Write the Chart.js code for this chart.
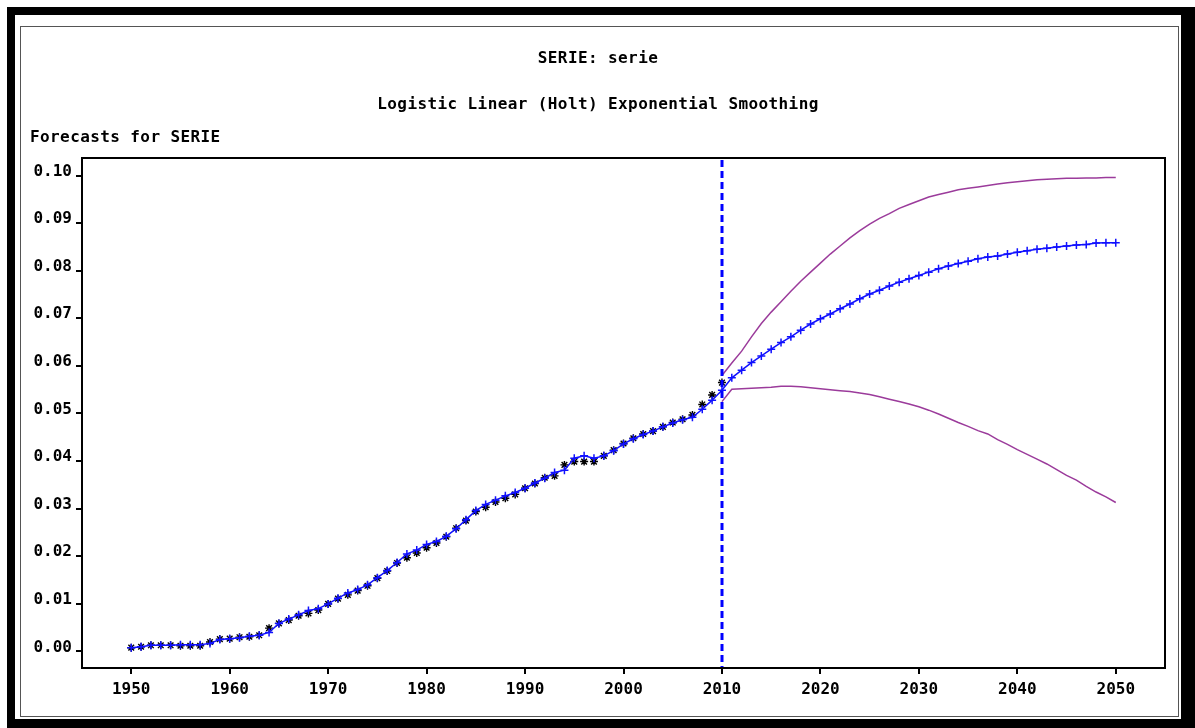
<!DOCTYPE html>
<html>
<head>
<meta charset="utf-8">
<script src="https://cdn.jsdelivr.net/npm/chart.js@4/dist/chart.umd.min.js"></script>
<style>
  html, body { margin: 0; padding: 0; background: #fff; overflow: hidden; }
  canvas { display: block; }
</style>
</head>
<body>
<canvas id="chart" width="1195" height="728"></canvas>
<script>
// Years covered by the series and its forecast horizon
const years = [
  1950, 1951, 1952, 1953, 1954, 1955, 1956, 1957, 1958, 1959,
  1960, 1961, 1962, 1963, 1964, 1965, 1966, 1967, 1968, 1969,
  1970, 1971, 1972, 1973, 1974, 1975, 1976, 1977, 1978, 1979,
  1980, 1981, 1982, 1983, 1984, 1985, 1986, 1987, 1988, 1989,
  1990, 1991, 1992, 1993, 1994, 1995, 1996, 1997, 1998, 1999,
  2000, 2001, 2002, 2003, 2004, 2005, 2006, 2007, 2008, 2009,
  2010, 2011, 2012, 2013, 2014, 2015, 2016, 2017, 2018, 2019,
  2020, 2021, 2022, 2023, 2024, 2025, 2026, 2027, 2028, 2029,
  2030, 2031, 2032, 2033, 2034, 2035, 2036, 2037, 2038, 2039,
  2040, 2041, 2042, 2043, 2044, 2045, 2046, 2047, 2048, 2049,
  2050
];

// Observed SERIE values, 1950-2010
const actual = [
  0.0008, 0.0010, 0.0013, 0.0013, 0.0013, 0.0012, 0.0012, 0.0012, 0.0020, 0.0026,
  0.0027, 0.0030, 0.0031, 0.0034, 0.0049, 0.0059, 0.0066, 0.0075, 0.0080, 0.0087,
  0.0100, 0.0111, 0.0119, 0.0128, 0.0138, 0.0154, 0.0169, 0.0186, 0.0197, 0.0207,
  0.0218, 0.0228, 0.0241, 0.0259, 0.0275, 0.0294, 0.0303, 0.0314, 0.0322, 0.0330,
  0.0343, 0.0353, 0.0365, 0.0369, 0.0392, 0.0399, 0.0399, 0.0399, 0.0411, 0.0423,
  0.0437, 0.0448, 0.0457, 0.0463, 0.0472, 0.0481, 0.0488, 0.0497, 0.0519, 0.0539,
  0.0565
];

// One-step-ahead fit and multi-step forecast, 1950-2050
const forecast = [
  0.0008, 0.0010, 0.0013, 0.0013, 0.0013, 0.0014, 0.0014, 0.0014, 0.0017, 0.0025,
  0.0027, 0.0029, 0.0032, 0.0034, 0.0040, 0.0059, 0.0068, 0.0077, 0.0086, 0.0090,
  0.0100, 0.0112, 0.0123, 0.0130, 0.0140, 0.0155, 0.0170, 0.0187, 0.0205, 0.0213,
  0.0225, 0.0231, 0.0242, 0.0258, 0.0277, 0.0296, 0.0309, 0.0318, 0.0327, 0.0334,
  0.0343, 0.0354, 0.0364, 0.0376, 0.0381, 0.0406, 0.0411, 0.0406, 0.0411, 0.0422,
  0.0436, 0.0447, 0.0456, 0.0463, 0.0472, 0.0480, 0.0487, 0.0492, 0.0509, 0.0528,
  0.0549,
  0.0575, 0.0591, 0.0607, 0.0621, 0.0635, 0.0649, 0.0661, 0.0675, 0.0688, 0.0699,
  0.0709, 0.0720, 0.0730, 0.0741, 0.0751, 0.0759, 0.0768, 0.0776, 0.0783, 0.0790,
  0.0797, 0.0804, 0.0810, 0.0815, 0.0820, 0.0825, 0.0829, 0.0831, 0.0835, 0.0839,
  0.0842, 0.0845, 0.0847, 0.0850, 0.0852, 0.0854, 0.0855, 0.0858, 0.0859, 0.0859
];

// Confidence limits of the forecast, 2010-2050
const upper = [
  0.0580,
  0.0606, 0.0631, 0.0661, 0.0689, 0.0713, 0.0735, 0.0757, 0.0778, 0.0797, 0.0816,
  0.0835, 0.0852, 0.0869, 0.0884, 0.0898, 0.0910, 0.0920, 0.0931, 0.0939, 0.0947,
  0.0955, 0.0960, 0.0965, 0.0970, 0.0973, 0.0976, 0.0979, 0.0982, 0.0985, 0.0987,
  0.0989, 0.0991, 0.0992, 0.0993, 0.0994, 0.0994, 0.0995, 0.0995, 0.0996, 0.0996
];
const lower = [
  0.0525,
  0.0551, 0.0552, 0.0553, 0.0554, 0.0555, 0.0557, 0.0557, 0.0556, 0.0554, 0.0552,
  0.0550, 0.0548, 0.0546, 0.0543, 0.0540, 0.0535, 0.0530, 0.0525, 0.0520, 0.0514,
  0.0507, 0.0499, 0.0490, 0.0481, 0.0473, 0.0464, 0.0457, 0.0445, 0.0435, 0.0424,
  0.0414, 0.0404, 0.0394, 0.0382, 0.0370, 0.0360, 0.0347, 0.0335, 0.0325, 0.0313
];

// Axis ticks
const xTicks = [1950, 1960, 1970, 1980, 1990, 2000, 2010, 2020, 2030, 2040, 2050];
const yTicks = [0.00, 0.01, 0.02, 0.03, 0.04, 0.05, 0.06, 0.07, 0.08, 0.09, 0.10];

// Start of the forecast horizon (dashed reference line)
const forecastStart = 2010;

// Titles
const titleText = 'SERIE: serie';
const subtitleText = 'Logistic Linear (Holt) Exponential Smoothing';
const axisTitleText = 'Forecasts for SERIE';

const FONT_FAMILY = "'DejaVu Sans Mono', monospace";
const tickFont = { family: FONT_FAMILY, size: 16, weight: 'bold' };

const startIdx = years.indexOf(forecastStart);
const toPoints = (values, offset) => values.map((v, i) => ({ x: years[offset + i], y: v }));

// Page frame, titles, plot border and the dashed forecast-start line
const sasFrame = {
  id: 'sasFrame',
  beforeDraw(chart) {
    const ctx = chart.ctx;
    const W = chart.width, H = chart.height;
    ctx.save();
    ctx.fillStyle = '#fff';
    ctx.fillRect(0, 0, W, H);
    // heavy outer border
    ctx.fillStyle = '#000';
    ctx.fillRect(7, 7, W - 7, H - 7);
    ctx.fillStyle = '#fff';
    ctx.fillRect(15, 15, 1181 - 15, 719 - 15);
    // thin inner border
    ctx.strokeStyle = '#555';
    ctx.lineWidth = 1;
    ctx.strokeRect(20.5, 26.5, 1158, 690);
    // texts
    ctx.fillStyle = '#000';
    ctx.font = `bold 16px ${FONT_FAMILY}`;
    if ('letterSpacing' in ctx) ctx.letterSpacing = '0.4px';
    ctx.textBaseline = 'alphabetic';
    ctx.textAlign = 'center';
    ctx.fillText(titleText, 598, 63);
    ctx.fillText(subtitleText, 598, 109);
    ctx.textAlign = 'left';
    ctx.fillText(axisTitleText, 30, 142);
    ctx.restore();
  },
  afterDatasetsDraw(chart) {
    const ctx = chart.ctx;
    const a = chart.chartArea;
    const x = Math.round(chart.scales.x.getPixelForValue(forecastStart));
    ctx.save();
    ctx.strokeStyle = '#0000FF';
    ctx.lineWidth = 3;
    ctx.setLineDash([7, 4]);
    ctx.beginPath();
    ctx.moveTo(x, a.top + 2);
    ctx.lineTo(x, a.bottom);
    ctx.stroke();
    ctx.restore();
  },
  afterDraw(chart) {
    const ctx = chart.ctx;
    const a = chart.chartArea;
    ctx.save();
    ctx.strokeStyle = '#000';
    ctx.lineWidth = 2;
    ctx.strokeRect(a.left, a.top, a.right - a.left, a.bottom - a.top);
    ctx.restore();
  }
};

new Chart(document.getElementById('chart'), {
  type: 'line',
  data: {
    datasets: [
      {
        label: 'Forecast',
        data: toPoints(forecast, 0),
        borderColor: '#1010FF',
        borderWidth: 1.5,
        pointStyle: 'cross',
        pointRadius: 4,
        pointBorderWidth: 1.5,
        pointBorderColor: '#1010FF',
        pointBackgroundColor: '#1010FF',
        tension: 0,
        order: 0
      },
      {
        label: 'Actual',
        data: toPoints(actual, 0),
        showLine: false,
        pointStyle: 'star',
        pointRadius: 4,
        pointBorderWidth: 1.4,
        pointBorderColor: '#000',
        pointBackgroundColor: '#000',
        order: 1
      },
      {
        label: 'Upper 95%',
        data: toPoints(upper, startIdx),
        borderColor: '#9B3B9B',
        borderWidth: 1.5,
        pointRadius: 0,
        tension: 0,
        order: 2
      },
      {
        label: 'Lower 95%',
        data: toPoints(lower, startIdx),
        borderColor: '#9B3B9B',
        borderWidth: 1.5,
        pointRadius: 0,
        tension: 0,
        order: 2
      }
    ]
  },
  options: {
    responsive: false,
    animation: false,
    devicePixelRatio: 1,
    layout: { padding: { top: 158, right: 30, bottom: 0, left: 0 } },
    plugins: {
      legend: { display: false },
      tooltip: { enabled: false },
      title: { display: false }
    },
    scales: {
      x: {
        type: 'linear',
        min: 1945,
        max: 2055,
        afterBuildTicks: (s) => { s.ticks = xTicks.map(v => ({ value: v })); },
        afterFit: (s) => { s.height = 60; },
        border: { display: false },
        grid: {
          display: true,
          drawOnChartArea: false,
          drawTicks: true,
          tickLength: 6,
          tickWidth: 2,
          tickColor: '#000',
          color: '#000',
          lineWidth: 2
        },
        ticks: {
          autoSkip: false,
          maxRotation: 0,
          color: '#000',
          font: tickFont,
          padding: 6,
          callback: (v) => String(v)
        }
      },
      y: {
        type: 'linear',
        min: -0.00347,
        max: 0.10368,
        afterBuildTicks: (s) => { s.ticks = yTicks.map(v => ({ value: v })); },
        afterFit: (s) => { s.width = 82; },
        border: { display: false },
        grid: {
          display: true,
          drawOnChartArea: false,
          drawTicks: true,
          tickLength: 6,
          tickWidth: 2,
          tickColor: '#000',
          color: '#000',
          lineWidth: 2
        },
        ticks: {
          color: '#000',
          font: tickFont,
          padding: 4,
          labelOffset: -4,
          callback: (v) => Number(v).toFixed(2)
        }
      }
    }
  },
  plugins: [sasFrame]
});
</script>
</body>
</html>
